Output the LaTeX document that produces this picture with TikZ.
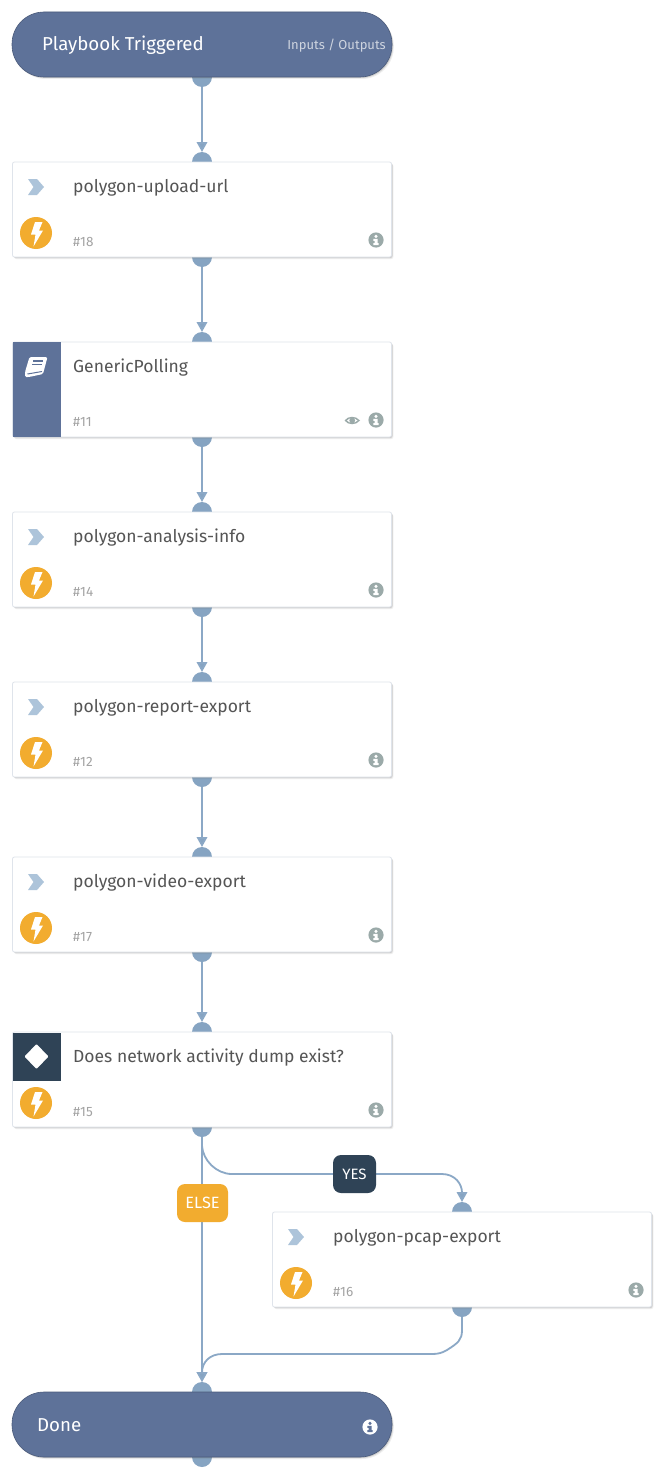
\documentclass[tikz,border=0pt]{standalone}
\usepackage{fontspec}
\setmainfont{Fira Sans}
\usetikzlibrary{arrows.meta,shadows,backgrounds}
\definecolor{slateblue}{HTML}{5E7299}
\definecolor{navy}{HTML}{2F4356}
\definecolor{amber}{HTML}{F2AC2F}
\definecolor{wire}{HTML}{8BA8C6}
\definecolor{portc}{HTML}{86A4C2}
\definecolor{chev}{HTML}{ADC4DA}
\definecolor{infoc}{HTML}{9BAAA9}
\definecolor{edgec}{HTML}{DFE4EB}
\definecolor{titlec}{HTML}{555555}
\definecolor{numc}{HTML}{A3A3A3}
\tikzset{
  x=1pt,y=-1pt,
  softshadow/.style={drop shadow={shadow xshift=1.8pt,shadow yshift=-2pt,opacity=.12,fill=black!55},drop shadow={shadow xshift=1pt,shadow yshift=-1pt,opacity=.25,fill=black!55}},
  cardbox/.style={rectangle,rounded corners=2pt,draw=edgec,line width=.8pt,fill=white,outer sep=0pt,minimum width=379pt,minimum height=95pt,inner sep=0pt,anchor=north west,softshadow},
  pillbox/.style={rectangle,rounded corners=32pt,draw=black!20!slateblue,line width=.6pt,fill=slateblue,outer sep=0pt,minimum width=380pt,minimum height=65pt,inner sep=0pt,anchor=north west,softshadow},
  portdot/.style={circle,fill=portc,minimum size=20pt,inner sep=0pt,outer sep=0pt},
  wireline/.style={draw=wire,line width=1.8pt},
  arrowline/.style={wireline,-{Triangle[width=10.5pt,length=10pt,fill=portc]}},
  titletext/.style={anchor=base west,inner sep=0pt,text=titlec,font=\fontsize{17.5}{20}\selectfont},
  numtext/.style={anchor=base west,inner sep=0pt,text=numc,font=\fontsize{13.5}{15}\selectfont},
  pilltext/.style={anchor=base west,inner sep=0pt,text=white,font=\fontsize{18.7}{20}\selectfont},
  tagbox/.style={rectangle,rounded corners=8pt,minimum height=38pt,inner sep=0pt,outer sep=0pt,text=white,font=\fontsize{15}{17}\selectfont},
}
% info icon at (#1,#2), disc colour #3, glyph colour #4
\newcommand{\infomark}[4]{%
  \fill[#3] (#1,#2) circle (7.6);
  \fill[#4] (#1,#2-3.6) circle (1.7);
  \fill[#4] (#1-2.6,#2-1.2) -- (#1+1.5,#2-1.2) -- (#1+1.5,#2+3) -- (#1+2.6,#2+3) -- (#1+2.6,#2+5) -- (#1-2.6,#2+5) -- (#1-2.6,#2+3) -- (#1-1.4,#2+3) -- (#1-1.4,#2+.8) -- (#1-2.6,#2+.8) -- cycle;
}
% chevron + bolt icons at offset (#1,#2) = card top left
\newcommand{\chevmark}[2]{%
  \fill[chev] (#1+15,#2+17) -- (#1+24,#2+17) -- (#1+31,#2+25) -- (#1+24,#2+33) -- (#1+15,#2+33) -- (#1+20.5,#2+25) -- cycle;
}
\newcommand{\boltmark}[2]{%
  \fill[amber] (#1+23,#2+71) circle (16);
  \fill[white] (#1+22,#2+60) -- (#1+29.5,#2+60) -- (#1+26,#2+68.5) -- (#1+30,#2+68.5) -- (#1+20.5,#2+84.5) -- (#1+22.5,#2+72.5) -- (#1+18,#2+72.5) -- cycle;
}
% \stepcard{id}{x}{y}{title}{number}
\newcommand{\stepcard}[5]{%
  \node[cardbox] (#1) at (#2-.5,#3) {};
  \node[titletext] (#1title) at (#2+60,#3+30) {#4};
  \node[numtext] (#1num) at (#2+60,#3+84) {\##5};
  \infomark{#2+363}{#3+78}{infoc}{white}
}
\begin{document}
\begin{tikzpicture}
\useasboundingbox (0,0) rectangle (663,1477);

\node[pillbox] (start) at (12,12) {};
\node[pilltext] (starttitle) at (42,51) {Playbook Triggered};
\node[anchor=base east,inner sep=0pt,text=white!70!slateblue,font=\fontsize{13}{15}\selectfont] (io) at (386,49.5) {Inputs / Outputs};

\stepcard{upload}{13}{162}{polygon-upload-url}{18}
\chevmark{13}{162}\boltmark{13}{162}

\stepcard{polling}{13}{342}{GenericPolling}{11}
\fill[slateblue] (13,342.4) rectangle (61,436.6);
\fill[white,rounded corners=1.5pt] (29.5,357) -- (47.5,357) -- (43,374) -- (29,377) -- (25,377) -- (25,372) -- cycle;
\draw[slateblue,line width=1.1pt] (33,361) -- (43,361) (32,364.5) -- (42,364.5);
\draw[slateblue,line width=1pt] (27.5,374) -- (42,371.5);
\fill[infoc] (344.5,420.5) .. controls (348,415.5) and (356,415.5) .. (360,420.5) .. controls (356,425.5) and (348,425.5) .. (344.5,420.5) -- cycle;
\fill[white] (347,420.5) .. controls (349.5,417.5) and (354.5,417.5) .. (357.5,420.5) .. controls (354.5,423.5) and (349.5,423.5) .. (347,420.5) -- cycle;
\fill[infoc] (352.2,420.5) circle (2.9);

\stepcard{info}{13}{512}{polygon-analysis-info}{14}
\chevmark{13}{512}\boltmark{13}{512}

\stepcard{report}{13}{682}{polygon-report-export}{12}
\chevmark{13}{682}\boltmark{13}{682}

\stepcard{video}{13}{857}{polygon-video-export}{17}
\chevmark{13}{857}\boltmark{13}{857}

\stepcard{cond}{13}{1032}{Does network activity dump exist?}{15}
\fill[navy] (13,1033) rectangle (61,1081);
\fill[white,rounded corners=.8pt] (36.5,1044) -- (48.5,1056.5) -- (36.5,1069) -- (24.5,1056.5) -- cycle;
\boltmark{13}{1032}

\stepcard{pcap}{273}{1212}{polygon-pcap-export}{16}
\chevmark{273}{1212}\boltmark{273}{1212}

\node[pillbox] (done) at (12,1392) {};
\node[pilltext] (donetitle) at (37,1431) {Done};
\infomark{370}{1427}{white}{slateblue}

\begin{pgfonlayer}{background}
  \fill[white] (0,0) rectangle (663,1477);
  \node[portdot] (p1) at (start.south) {};
  \node[portdot] (p2) at (upload.north) {};
  \node[portdot] (p3) at (upload.south) {};
  \node[portdot] (p4) at (polling.north) {};
  \node[portdot] (p5) at (polling.south) {};
  \node[portdot] (p6) at (info.north) {};
  \node[portdot] (p7) at (info.south) {};
  \node[portdot] (p8) at (report.north) {};
  \node[portdot] (p9) at (report.south) {};
  \node[portdot] (p10) at (video.north) {};
  \node[portdot] (p11) at (video.south) {};
  \node[portdot] (p12) at (cond.north) {};
  \node[portdot] (p13) at (cond.south) {};
  \node[portdot] (p14) at (pcap.north) {};
  \node[portdot] (p15) at (pcap.south) {};
  \node[portdot] (p16) at (done.north) {};
  \node[portdot] (p17) at (done.south) {};
\end{pgfonlayer}

\draw[arrowline] (p1.south) -- (p2.north);
\draw[arrowline] (p3.south) -- (p4.north);
\draw[arrowline] (p5.south) -- (p6.north);
\draw[arrowline] (p7.south) -- (p8.north);
\draw[arrowline] (p9.south) -- (p10.north);
\draw[arrowline] (p11.south) -- (p12.north);
\draw[arrowline] (p13.south) -- (p16.north);
\draw[arrowline] (p13.south) -- (202,1146) .. controls (203,1160) and (216,1174) .. (232,1174) -- (442,1174) .. controls (455,1174) and (462,1184) .. (p14.north);
\draw[arrowline] (p15.south) -- (462,1330) .. controls (462,1340) and (458,1343) .. (447,1350) .. controls (442,1353) and (438,1354) .. (432,1354) -- (222,1354) .. controls (210,1354) and (202,1362) .. (p16.north);

\node[tagbox,fill=amber,minimum width=51pt,font=\fontsize{16.3}{17}\selectfont] (elsetag) at (202.5,1203) {ELSE};
\node[tagbox,fill=navy,minimum width=43pt] (yestag) at (354.5,1174) {YES};
\end{tikzpicture}
\end{document}
